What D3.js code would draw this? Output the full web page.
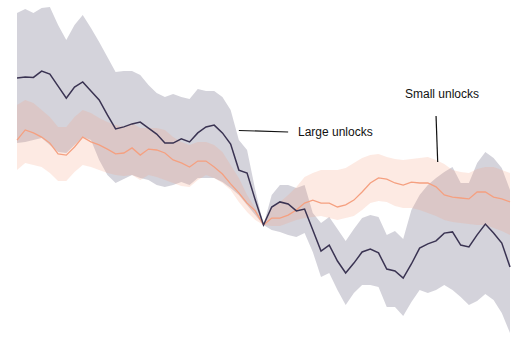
<!DOCTYPE html>
<html>
<head>
<meta charset="utf-8">
<script src="https://cdn.jsdelivr.net/npm/d3@7"></script>
<style>
  html, body { margin: 0; padding: 0; background: #fff; }
  svg { display: block; }
</style>
</head>
<body>
<svg id="chart" width="515" height="348"></svg>
<script>
// Event days relative to unlock (-30 .. 30)
const days = d3.range(-30, 31);

// Large unlocks: mean and confidence band (% change)
const largeMean = [49.0,49.3,49.2,51.3,50.3,46.3,42.3,46.0,47.7,44.7,41.7,36.7,32.0,32.7,33.7,34.3,32.3,30.3,27.3,27.3,28.7,27.7,30.7,32.7,33.3,30.7,27.0,18.3,17.3,8.3,0,6.0,7.7,7.0,4.7,5.3,-1.7,-8.7,-6.7,-12.0,-16.0,-12.7,-9.0,-8.0,-9.3,-14.7,-15.3,-17.7,-13.0,-7.7,-6.3,-5.3,-2.7,-2.3,-6.7,-7.3,-3.3,0.3,-2.7,-6.0,-14.0];
const largeUpper = [70.7,72.0,70.7,72.3,72.7,66.7,61.7,66.7,70.0,65.7,61.0,56.0,51.0,51.3,51.3,50.0,46.7,44.0,42.7,43.7,42.7,42.0,45.3,44.7,44.7,42.7,38.3,28.3,25.0,11.7,0,10.0,13.3,13.3,12.3,13.3,4.0,0.7,2.7,-1.3,-5.3,-1.3,2.3,3.3,2.7,-3.3,-2.0,-4.7,5.0,10.0,13.3,15.7,17.7,19.3,14.0,14.0,20.7,24.3,22.3,19.0,11.7];
const largeLower = [27.3,27.7,28.3,29.0,26.7,24.3,24.0,26.7,29.3,28.3,21.7,16.7,14.0,15.3,16.7,15.7,15.0,13.3,12.7,13.3,14.3,13.3,15.7,15.7,15.7,14.3,12.3,10.0,6.7,3.3,0,-1.7,-2.3,-3.3,-4.0,-2.7,-9.0,-17.3,-16.0,-21.7,-26.7,-22.7,-20.0,-20.0,-20.7,-27.3,-27.3,-30.3,-25.7,-21.7,-22.7,-21.7,-20.0,-21.7,-24.0,-26.7,-25.3,-23.0,-25.0,-29.3,-36.0];

// Small unlocks: mean and confidence band (% change)
const smallMean = [28.3,31.7,30.7,29.3,27.3,23.7,23.3,26.0,29.3,27.7,26.7,25.3,23.7,24.0,25.7,23.3,25.3,25.0,24.0,21.7,20.7,19.3,21.3,21.3,19.3,17.0,13.7,10.7,7.3,4.7,0,2.3,2.3,3.3,5.0,7.3,8.3,7.3,7.3,6.0,6.7,8.3,11.0,14.0,15.7,15.3,14.0,13.3,14.3,14.0,14.0,12.7,10.0,9.3,9.0,8.7,11.0,11.0,9.3,8.7,7.7];
const smallUpper = [40.0,41.7,40.7,38.3,36.0,32.7,32.7,36.0,38.3,37.3,35.7,34.3,33.3,32.7,34.0,32.3,32.3,32.3,31.7,29.3,27.7,26.7,27.7,27.7,26.7,24.3,20.0,15.7,10.0,5.7,0,5.7,7.7,10.0,12.7,16.0,17.3,18.3,18.3,18.3,19.0,20.7,22.3,23.3,23.7,22.7,22.0,21.7,22.0,22.3,22.7,21.7,20.3,18.3,17.7,17.3,18.7,19.3,19.3,18.3,17.3];
const smallLower = [18.3,20.7,20.0,19.3,17.3,14.7,14.7,17.7,20.0,19.3,18.3,17.3,16.7,16.3,16.7,15.0,16.7,16.0,15.0,14.0,13.0,12.7,15.0,16.7,15.7,14.0,11.7,7.7,4.3,1.7,0,-0.3,-0.3,0.7,1.7,2.3,2.7,3.0,2.3,1.7,2.3,3.0,5.0,7.3,8.0,7.7,6.3,5.7,5.7,5.0,4.0,3.0,1.7,1.0,0.7,0.3,0,0,-1.0,-2.0,-3.3];

// Annotation labels
const labels = ["Large unlocks", "Small unlocks"];

const svg = d3.select("#chart");

const x = d3.scaleLinear().domain([-30, 30]).range([17, 510]);
const y = d3.scaleLinear().domain([-40, 75]).range([345, 0]);

const mk = (mean, lo, hi) => days.map((d, i) => ({ d, m: mean[i], lo: lo[i], hi: hi[i] }));
const large = mk(largeMean, largeLower, largeUpper);
const small = mk(smallMean, smallLower, smallUpper);

const area = d3.area().x(p => x(p.d)).y0(p => y(p.lo)).y1(p => y(p.hi));
const line = d3.line().x(p => x(p.d)).y(p => y(p.m));

svg.append("path").datum(large).attr("d", area)
  .attr("fill", "#26234a").attr("fill-opacity", 0.2);
svg.append("path").datum(small).attr("d", area)
  .attr("fill", "#f7a07f").attr("fill-opacity", 0.22);

svg.append("path").datum(small).attr("d", line)
  .attr("fill", "none").attr("stroke", "#f5a080").attr("stroke-width", 1.3);
svg.append("path").datum(large).attr("d", line)
  .attr("fill", "none").attr("stroke", "#3a3352").attr("stroke-width", 1.5);

// Annotations
const ann = svg.append("g").attr("font-family", "'Liberation Sans', Arial, sans-serif")
  .attr("font-size", 12).attr("fill", "#111");

ann.append("line")
  .attr("x1", x(-3)).attr("y1", 130.5).attr("x2", x(3)).attr("y2", 132)
  .attr("stroke", "#111").attr("stroke-width", 1.2);
ann.append("text").attr("x", 298).attr("y", 136).text(labels[0]);

ann.append("line")
  .attr("x1", x(21)).attr("y1", 116).attr("x2", x(21.2)).attr("y2", 162)
  .attr("stroke", "#111").attr("stroke-width", 1.2);
ann.append("text").attr("x", 405).attr("y", 98).text(labels[1]);
</script>
</body>
</html>
